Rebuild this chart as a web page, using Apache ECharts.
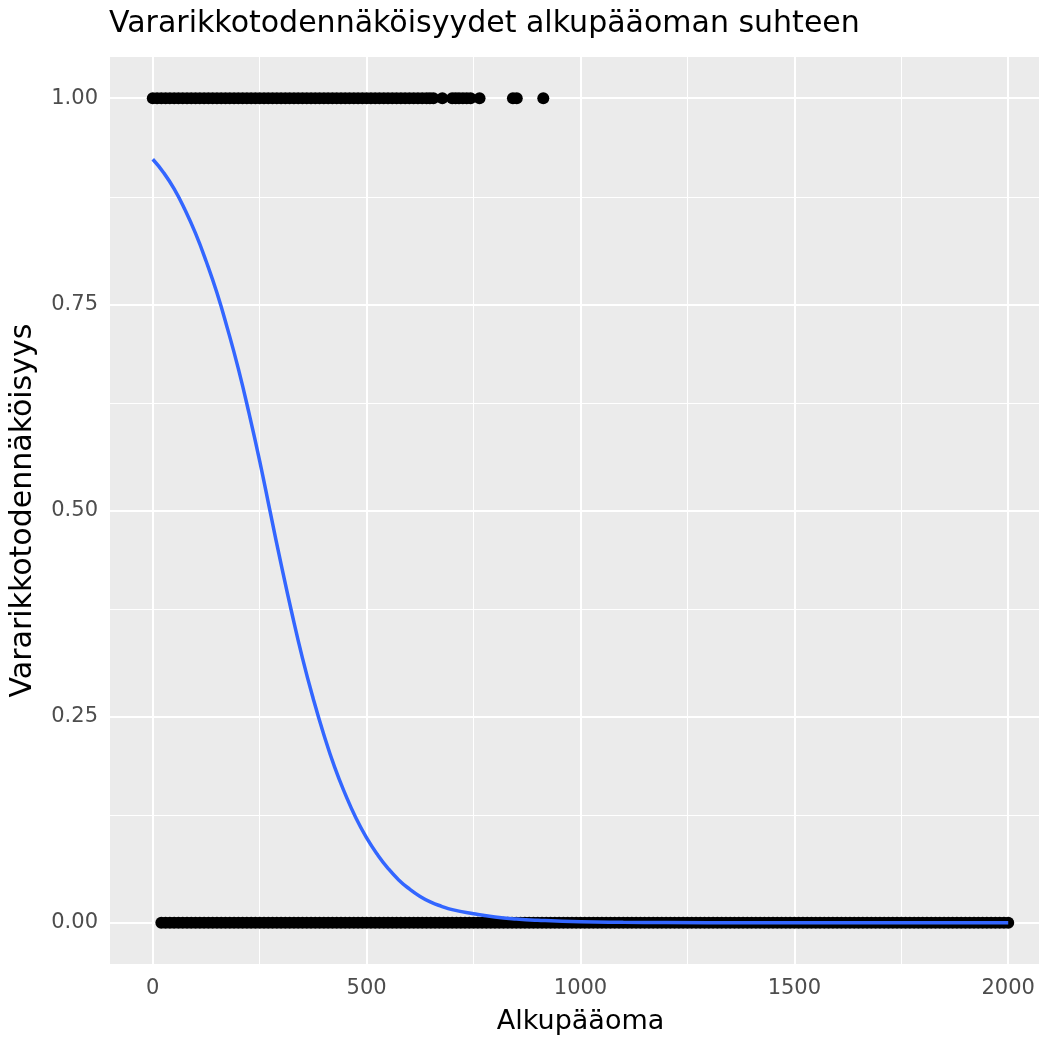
<!DOCTYPE html>
<html lang="fi">
<head>
    <meta charset="UTF-8">
    <title>Vararikkotodennäköisyydet</title>
    <script src="https://cdn.jsdelivr.net/npm/echarts@6/dist/echarts.min.js"></script>
    <style>
        html, body { margin: 0; padding: 0; background: #fff; }
        #chart { width: 1039px; height: 1043px; }
    </style>
</head>
<body>
<div id="chart"></div>
<script>
    // havainnot: alkupääoma, vararikko = 1
    var defaultX = [0, 10, 20, 30, 40, 50, 60, 70, 80, 90, 100, 110, 120, 130, 140, 150, 160, 170,
        180, 190, 200, 210, 220, 230, 240, 250, 260, 270, 280, 290, 300, 310, 320, 330, 340, 350,
        360, 370, 380, 390, 400, 410, 420, 430, 440, 450, 460, 470, 480, 490, 500, 510, 520, 530,
        540, 550, 560, 570, 580, 590, 600, 610, 620, 630, 640, 648, 656,
        677, 700, 708, 716, 725, 734, 743, 764, 842, 851, 913]
    // havainnot: alkupääoma, vararikko = 0
    var survivedX = [20, 30, 40, 50, 60, 70, 80, 90, 100, 110, 120, 130, 140, 150, 160, 170, 180, 190,
        200, 210, 220, 230, 240, 250, 260, 270, 280, 290, 300, 310, 320, 330, 340, 350, 360, 370, 380,
        390, 400, 410, 420, 430, 440, 450, 460, 470, 480, 490, 500, 510, 520, 530, 540, 550, 560, 570,
        580, 590, 600, 610, 620, 630, 640, 650, 660, 670, 680, 690, 700, 710, 720, 730, 740, 750, 760,
        770, 780, 790, 800, 810, 820, 830, 840, 850, 860, 870, 880, 890, 900, 910, 920, 930, 940, 950,
        960, 970, 980, 990, 1000, 1010, 1020, 1030, 1040, 1050, 1060, 1070, 1080, 1090, 1100, 1110,
        1120, 1130, 1140, 1150, 1160, 1170, 1180, 1190, 1200, 1210, 1220, 1230, 1240, 1250, 1260,
        1270, 1280, 1290, 1300, 1310, 1320, 1330, 1340, 1350, 1360, 1370, 1380, 1390, 1400, 1410,
        1420, 1430, 1440, 1450, 1460, 1470, 1480, 1490, 1500, 1510, 1520, 1530, 1540, 1550, 1560,
        1570, 1580, 1590, 1600, 1610, 1620, 1630, 1640, 1650, 1660, 1670, 1680, 1690, 1700, 1710,
        1720, 1730, 1740, 1750, 1760, 1770, 1780, 1790, 1800, 1810, 1820, 1830, 1840, 1850, 1860,
        1870, 1880, 1890, 1900, 1910, 1920, 1930, 1940, 1950, 1960, 1970, 1980, 1990, 2000]
    // sovitettu käyrä
    var curveX = [0, 25, 50, 75, 100, 125, 150, 175, 200, 225, 250, 275, 300, 325, 350, 375, 400,
        425, 450, 475, 500, 525, 550, 575, 600, 625, 650, 675, 700, 750, 800, 850, 900, 1000, 1100,
        1200, 1400, 1600, 2000]
    var curveY = [0.926, 0.910, 0.890, 0.865, 0.836, 0.802, 0.764, 0.720, 0.672, 0.618, 0.560, 0.497,
        0.435, 0.376, 0.321, 0.272, 0.228, 0.189, 0.156, 0.127, 0.103, 0.083, 0.066, 0.052, 0.041,
        0.032, 0.025, 0.020, 0.016, 0.011, 0.007, 0.0045, 0.003, 0.0012, 0.0005, 0.0002, 0.0001, 0, 0]
    // akselit
    var xTicks = [0, 500, 1000, 1500, 2000]
    var xMinor = [250, 750, 1250, 1750]
    var yTicks = [0, 0.25, 0.5, 0.75, 1]
    var yMinor = [0.125, 0.375, 0.625, 0.875]

    var font = 'DejaVu Sans'
    var chart = echarts.init(document.getElementById('chart'))

    function gridLines() {
        var data = []
        xTicks.forEach(function (v) { data.push({xAxis: v, lineStyle: {width: 2}}) })
        xMinor.forEach(function (v) { data.push({xAxis: v, lineStyle: {width: 1}}) })
        yTicks.forEach(function (v) { data.push({yAxis: v, lineStyle: {width: 2}}) })
        yMinor.forEach(function (v) { data.push({yAxis: v, lineStyle: {width: 1}}) })
        return data
    }

    var option = {
        animation: false,
        backgroundColor: '#ffffff',
        title: {
            text: 'Vararikkotodennäköisyydet alkupääoman suhteen',
            left: 104,
            top: 4,
            textStyle: {fontFamily: font, fontSize: 30, fontWeight: 'normal', color: '#000'}
        },
        grid: {
            left: 110, top: 57, right: -12, bottom: 79,
            show: true, backgroundColor: '#EBEBEB', borderWidth: 0,
            outerBoundsMode: 'none'
        },
        xAxis: {
            type: 'value',
            min: -100, max: 2100,
            name: 'Alkupääoma',
            nameLocation: 'middle',
            nameGap: 44,
            nameTextStyle: {fontFamily: font, fontSize: 27, color: '#000'},
            axisLine: {show: false},
            axisTick: {show: true, length: 6, customValues: xTicks, lineStyle: {color: '#333', width: 1.5}},
            axisLabel: {
                customValues: xTicks, margin: 14, fontFamily: font, fontSize: 21, color: '#4D4D4D',
                formatter: function (v) { return String(v) }
            },
            splitLine: {show: false}
        },
        yAxis: {
            type: 'value',
            min: -0.05, max: 1.05,
            name: 'Vararikkotodennäköisyys',
            nameLocation: 'middle',
            nameGap: 72,
            nameTextStyle: {fontFamily: font, fontSize: 30, color: '#000'},
            axisLine: {show: false},
            axisTick: {show: true, length: 6, customValues: yTicks, lineStyle: {color: '#333', width: 1.5}},
            axisLabel: {
                customValues: yTicks, margin: 12, fontFamily: font, fontSize: 21, color: '#4D4D4D',
                formatter: function (v) { return v.toFixed(2) }
            },
            splitLine: {show: false}
        },
        series: [
            {
                type: 'line',
                data: [],
                z: 1,
                silent: true,
                markLine: {
                    silent: true,
                    z: 1,
                    symbol: ['none', 'none'],
                    label: {show: false},
                    lineStyle: {color: '#ffffff', type: 'solid'},
                    data: gridLines()
                }
            },
            {
                type: 'scatter',
                symbolSize: 12,
                z: 3,
                itemStyle: {color: '#000', opacity: 1},
                data: defaultX.map(function (x) { return [x, 1] })
            },
            {
                type: 'scatter',
                symbolSize: 12,
                z: 3,
                itemStyle: {color: '#000', opacity: 1},
                data: survivedX.map(function (x) { return [x, 0] })
            },
            {
                type: 'line',
                smooth: true,
                showSymbol: false,
                lineStyle: {color: '#3366FF', width: 3.5},
                data: curveX.map(function (x, i) { return [x, curveY[i]] }),
                z: 5
            }
        ]
    }
    chart.setOption(option)
</script>
</body>
</html>
